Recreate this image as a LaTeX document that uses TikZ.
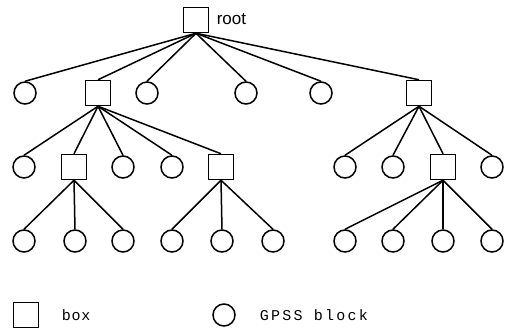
\documentclass[tikz,border=0pt]{standalone}
\usepackage{fontspec}
\newfontfamily\treefont{Liberation Sans}
\newfontfamily\legendfont[LetterSpace=15]{Liberation Mono}
\newfontfamily\legendnarrow[LetterSpace=5]{Liberation Mono}
\usetikzlibrary{positioning}

\begin{document}
\begin{tikzpicture}[x=1pt,y=-1pt,line width=1.5pt,
  blk/.style={draw,circle,minimum size=22pt,inner sep=0pt},
  bx/.style={draw,minimum size=25pt,inner sep=0pt},
  lbl/.style={inner sep=0pt,anchor=west}]
\useasboundingbox (0,0) rectangle (512,330);
% root
\node[bx] (root) at (196,20) {};
\node[lbl,font=\fontsize{17}{17}\treefont] (rootlbl) at (216,19) {root};
% first level
\node[blk] (c1) at (25,93) {};
\node[bx] (b1) at (98,93) {};
\node[blk] (c2) at (147,93) {};
\node[blk] (c3) at (246,93) {};
\node[blk] (c4) at (321,93) {};
\node[bx] (b2) at (419,93) {};
% second level
\node[blk] (c5) at (24,167) {};
\node[bx] (b3) at (74,167) {};
\node[blk] (c6) at (123,167) {};
\node[blk] (c7) at (172,167) {};
\node[bx] (b4) at (221,167) {};
\node[blk] (c8) at (345,167) {};
\node[blk] (c9) at (393,167) {};
\node[bx] (b5) at (443,167) {};
\node[blk] (c10) at (492,167) {};
% third level
\node[blk] (d1) at (24,241) {};
\node[blk] (d2) at (75,241) {};
\node[blk] (d3) at (123,241) {};
\node[blk] (d4) at (172,241) {};
\node[blk] (d5) at (222,241) {};
\node[blk] (d6) at (273,241) {};
\node[blk] (d7) at (345,241) {};
\node[blk] (d8) at (393,241) {};
\node[blk] (d9) at (443,241) {};
\node[blk] (d10) at (492,241) {};
% edges
\foreach \k in {c1,b1,c2,c3,c4,b2} \draw (root.south)--(\k.north);
\foreach \k in {c5,b3,c6,c7,b4} \draw (b1.south)--(\k.north);
\foreach \k in {c8,c9,b5,c10} \draw (b2.south)--(\k.north);
\foreach \k in {d1,d2,d3} \draw (b3.south)--(\k.north);
\foreach \k in {d4,d5,d6} \draw (b4.south)--(\k.north);
\foreach \k in {d7,d8,d9,d10} \draw (b5.south)--(\k.north);
% legend
\node[bx] (keybox) at (26,315) {};
\node[lbl,font=\fontsize{15}{15}\legendnarrow] (keyboxlbl) at (61,315) {box};
\node[blk] (keyblk) at (224,315) {};
\node[lbl,font=\fontsize{15}{15}\legendfont] (keyblklbl) at (259,315) {GPSS block};
\end{tikzpicture}
\end{document}
